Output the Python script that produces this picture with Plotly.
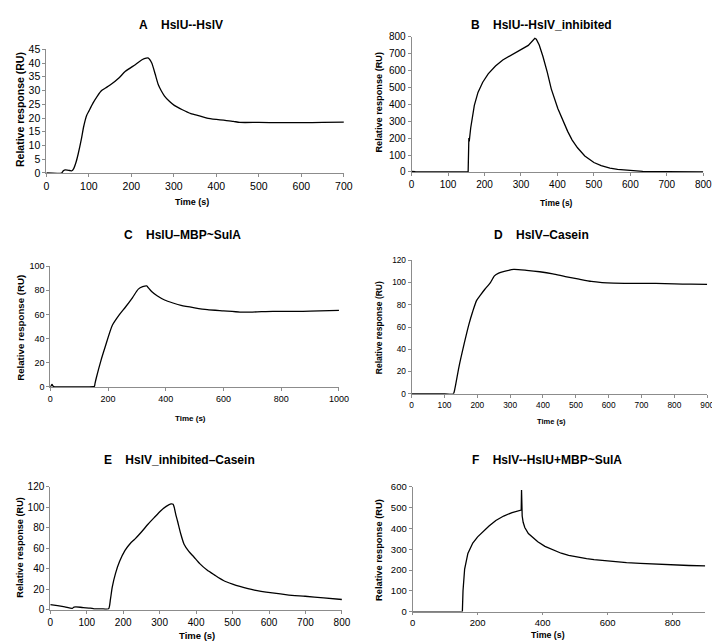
import plotly.graph_objects as go

W, H = 720, 641

# ---------------- data ----------------
a_time = [0, 36, 40, 45, 55, 60, 64, 70, 75, 82, 88, 95, 100, 110, 120, 130, 140, 150, 170, 186, 210, 225, 235, 240,
          248, 256, 263, 270, 278, 290, 301, 320, 340, 360, 378, 400, 417, 440, 455, 500, 550, 600, 650, 700]
a_resp = [0, 0, 0.8, 1.1, 0.9, 0.8, 1.5, 4, 7, 12, 17, 21, 22.5, 25.5, 28, 30, 31, 32, 34.5, 37, 39.5, 41.2, 41.8,
          41.8, 40, 36, 32.3, 30, 28, 26, 24.6, 23, 21.6, 20.8, 20, 19.5, 19.2, 18.8, 18.4, 18.4, 18.3, 18.3, 18.4,
          18.5]

b_time = [0, 10, 150, 155, 157, 158, 162, 172, 182, 195, 210, 230, 250, 275, 300, 320, 338, 342, 350, 360, 372, 383,
          401, 415, 428, 440, 455, 475, 500, 520, 544, 565, 589, 610, 634, 700, 800]
b_resp = [3, 2, 0, 0, 200, 180, 260, 394, 470, 530, 580, 626, 662, 694, 725, 748, 790, 785, 750, 684, 590, 491,
          375, 300, 240, 190, 143, 95, 56, 38, 23, 16, 12, 8, 4, 2, 0]

c_time = [0, 3, 6, 10, 15, 60, 100, 150, 153, 155, 160, 175, 190, 215, 240, 260, 285, 305, 320, 334, 340, 351, 370,
          396, 425, 453, 500, 544, 600, 657, 700, 771, 850, 900, 1000]
c_resp = [0, 1, 2, 0.5, 0, 0, 0, 0.3, 0.5, 3, 8, 21.4, 33, 51, 60, 66, 74, 81, 83, 83.7, 82, 79, 75.5, 72, 69.5,
          67.5, 65.5, 64, 63, 62, 62, 62.6, 62.5, 62.7, 63.4]

d_time = [0, 100, 127, 132, 144, 160, 174, 186, 198, 210, 223, 240, 252, 265, 282, 311, 350, 390, 430, 468, 510, 547,
          580, 615, 680, 743, 800, 850, 900]
d_resp = [0, 0, 0, 5, 24, 45, 62, 74, 84, 89, 94, 100, 106, 108.5, 110, 111.8, 111, 109.7, 107.8, 105.4, 103, 101,
          100, 99.5, 99.2, 99.2, 98.8, 98.5, 98.3]

e_time = [0, 20, 40, 60, 65, 70, 90, 110, 120, 140, 160, 165, 170, 179, 190, 205, 220, 232, 250, 268, 285, 304, 318,
          331, 337, 340, 345, 349, 358, 367, 380, 394, 410, 430, 450, 475, 500, 520, 560, 609, 650, 699, 750, 800]
e_resp = [5, 4, 2.8, 1.2, 2.5, 2.8, 2, 1.5, 0.8, 0.8, 0.8, 10, 22, 35.5, 47, 58, 65, 69, 76, 83.5, 90, 97, 101,
          103.4, 103, 100, 92, 86.7, 74, 64, 57, 51.5, 45, 38.7, 34, 28.5, 25, 22.7, 19, 16.3, 14.5, 13.1, 11.5, 9.9]

f_time = [0, 60, 65, 90, 115, 120, 153, 155, 160, 170, 185, 200, 215, 235, 256, 280, 306, 320, 331, 334, 335, 336,
          337, 340, 345, 356, 370, 385, 407, 430, 457, 480, 508, 535, 558, 600, 658, 700, 759, 800, 850, 900]
f_resp = [0, 0, 3, 3, 3, 0, 0, 100, 205, 280, 330, 360, 384, 412, 439, 460, 477, 483, 488, 489, 585, 530, 460, 430,
          405, 376, 355, 336, 314, 297, 281, 271, 262, 255, 250, 243, 236, 232, 227, 225, 222, 220]

titles = ["A\u00a0\u00a0\u00a0\u00a0HslU--HslV",
          "B\u00a0\u00a0\u00a0\u00a0HslU--HslV_inhibited",
          "C\u00a0\u00a0\u00a0\u00a0HslU\u2013MBP~SulA",
          "D\u00a0\u00a0\u00a0\u00a0HslV\u2013Casein",
          "E\u00a0\u00a0\u00a0\u00a0HslV_inhibited\u2013Casein",
          "F\u00a0\u00a0\u00a0\u00a0HslV--HslU+MBP~SulA"]
x_label = "Time (s)"
y_label = "Relative response (RU)"

x_ranges = [[0, 700], [0, 800], [0, 1000], [0, 900], [0, 800], [0, 900]]
x_ticks = [list(range(0, 701, 100)), list(range(0, 801, 100)), list(range(0, 1001, 200)),
           list(range(0, 901, 100)), list(range(0, 801, 100)), list(range(0, 801, 200))]
y_ranges = [[0, 45], [0, 800], [0, 100], [0, 120], [0, 120], [0, 600]]
y_ticks = [list(range(0, 46, 5)), list(range(0, 801, 100)), list(range(0, 101, 20)),
           list(range(0, 121, 20)), list(range(0, 121, 20)), list(range(0, 601, 100))]

series = [(a_time, a_resp), (b_time, b_resp), (c_time, c_resp), (d_time, d_resp), (e_time, e_resp), (f_time, f_resp)]
shapes_line = ["spline", "linear", "spline", "spline", "spline", "linear"]

# ---------------- layout geometry (pixels) ----------------
boxes = [(36, 339, 36, 162), (408, 705, 23, 161), (40, 334, 257, 380),
         (408, 709, 251, 387), (40, 337, 482, 607), (409, 707, 482, 609)]
title_pos = [(173, 11), (540, 11), (175, 225), (540, 225), (172, 454), (546, 455)]
xlab_pos = [(184, 192), (556, 193), (183, 412), (550, 415), (189, 633), (547, 633)]
ylab_pos = [(9, 97), (375, 90), (9, 320), (375, 320), (9, 543), (375, 546)]
tick_sizes = [10.5, 10, 9, 8.3, 10, 9.5]
xticklen = [3, 3, 3, 3, 3, 2]
xlab_sizes = [9, 8.5, 8, 7.5, 9.5, 8.8]
ylab_sizes = [10.5, 9.2, 9.7, 8.5, 9.2, 9.3]

FONT = "Liberation Sans, Arial, sans-serif"
AXC = "#8c8c8c"

fig = go.Figure()
layout = dict(width=W, height=H, margin=dict(l=0, r=0, t=0, b=0),
              paper_bgcolor="white", plot_bgcolor="white", showlegend=False,
              font=dict(family=FONT, color="black"))
annotations = []

for i, ((t, r), (x0, x1, y0, y1)) in enumerate(zip(series, boxes)):
    k = "" if i == 0 else str(i + 1)
    fig.add_trace(go.Scatter(x=t, y=r, mode="lines",
                             line=dict(color="black", width=1.3, shape=shapes_line[i], smoothing=0.6),
                             xaxis="x" + k, yaxis="y" + k, hoverinfo="skip"))
    layout["xaxis" + k] = dict(domain=[x0 / W, x1 / W], anchor="y" + k, range=x_ranges[i],
                               tickvals=x_ticks[i], showline=True, linecolor=AXC, linewidth=1,
                               ticks="outside", ticklen=xticklen[i], tickcolor=AXC, showgrid=False,
                               zeroline=False,
                               tickfont=dict(size=tick_sizes[i], family=FONT, color="black"))
    layout["yaxis" + k] = dict(domain=[1 - y1 / H, 1 - y0 / H], anchor="x" + k, range=y_ranges[i],
                               tickvals=y_ticks[i], showline=True, linecolor=AXC, linewidth=1,
                               ticks="outside", ticklen=3, tickcolor=AXC, showgrid=False, zeroline=False,
                               tickfont=dict(size=tick_sizes[i], family=FONT, color="black"))
    tx, ty = title_pos[i]
    annotations.append(dict(text="<b>" + titles[i] + "</b>", x=tx / W, y=1 - ty / H, xref="paper", yref="paper",
                            xanchor="center", yanchor="middle", showarrow=False,
                            font=dict(size=12, family=FONT, color="black")))
    lx, ly = xlab_pos[i]
    annotations.append(dict(text="<b>" + x_label + "</b>", x=lx / W, y=1 - ly / H, xref="paper", yref="paper",
                            xanchor="center", yanchor="middle", showarrow=False,
                            font=dict(size=xlab_sizes[i], family=FONT, color="black")))
    yx, yy = ylab_pos[i]
    annotations.append(dict(text="<b>" + y_label + "</b>", x=yx / W, y=1 - yy / H, xref="paper", yref="paper",
                            xanchor="center", yanchor="middle", showarrow=False, textangle=-90,
                            font=dict(size=ylab_sizes[i], family=FONT, color="black")))

layout["annotations"] = annotations
fig.update_layout(**layout)
fig.write_html("out.html")
